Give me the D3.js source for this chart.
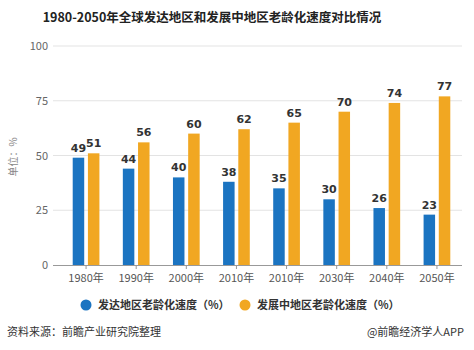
<!DOCTYPE html>
<html><head><meta charset="utf-8">
<script src="https://cdn.jsdelivr.net/npm/d3@7"></script>
<style>body{margin:0;background:#fff;} svg{display:block;font-family:"Noto Sans CJK SC","Microsoft YaHei",sans-serif;}</style>
</head><body><svg id="c" width="474" height="350"></svg>
<script>
const categories = ["1980年","1990年","2000年","2010年","2010年","2030年","2040年","2050年"];
const developed = [49,44,40,38,35,30,26,23];
const developing = [51,56,60,62,65,70,74,77];
const seriesNames = ["发达地区老龄化速度（%）","发展中地区老龄化速度（%）"];
const yTicks = [0,25,50,75,100];
const colors = ["#1b74c1","#f1a722"];

const svg = d3.select("#c");
const x = d3.scaleBand().domain(d3.range(categories.length)).range([61,462]).padding(0);
const y = d3.scaleLinear().domain([0,100]).range([265,46]);

svg.append("text").attr("x",212).attr("y",22).attr("text-anchor","middle")
  .attr("font-size",12.5).attr("font-weight","bold").attr("fill","#222")
  .text("1980-2050年全球发达地区和发展中地区老龄化速度对比情况");

// grid
svg.append("g").selectAll("line").data(yTicks.filter(d=>d>0)).join("line")
  .attr("x1",53).attr("x2",462).attr("y1",d=>y(d)).attr("y2",d=>y(d))
  .attr("stroke","#e3e3e3").attr("stroke-width",1);
svg.append("g").selectAll("text").data(yTicks).join("text")
  .attr("x",48).attr("y",d=>y(d)+4).attr("text-anchor","end")
  .attr("font-size",11).attr("fill","#666").text(d=>d);

svg.append("text").attr("transform","translate(17,157) rotate(-90)")
  .attr("text-anchor","middle").attr("font-size",10).attr("fill","#888").text("单位：%");

// x axis
const xAxis = d3.axisBottom(x).tickSize(4).tickFormat(i=>categories[i]);
const gx = svg.append("g").attr("transform","translate(0,265)").call(xAxis);
gx.select(".domain").attr("d","M53,0.5H462").attr("stroke","#999");
gx.selectAll(".tick line").attr("stroke","#999");
gx.selectAll(".tick text").attr("font-size",11).attr("fill","#555").attr("dy","0.9em")
  .attr("font-family","'Noto Sans CJK SC',sans-serif");

const bw = 11.5, gap = 3.7;
const series = [developed, developing];
series.forEach((vals,si)=>{
  const off = si===0 ? -gap/2-bw : gap/2;
  const g = svg.append("g");
  g.selectAll("rect").data(vals).join("rect")
    .attr("x",(d,i)=>x(i)+x.bandwidth()/2+off).attr("width",bw)
    .attr("y",d=>y(d)).attr("height",d=>y(0)-y(d)).attr("fill",colors[si]);
  g.selectAll("text").data(vals).join("text")
    .attr("x",(d,i)=>x(i)+x.bandwidth()/2+off+bw/2).attr("y",d=>y(d)-6)
    .attr("text-anchor","middle").attr("font-size",11).attr("font-weight","bold")
    .attr("fill","#333").attr("font-family","'DejaVu Sans',sans-serif").text(d=>d);
});

// legend
const lx = [86,245];
seriesNames.forEach((n,i)=>{
  svg.append("circle").attr("cx",lx[i]).attr("cy",305).attr("r",5.5).attr("fill",colors[i]);
  svg.append("text").attr("x",lx[i]+12).attr("y",309).attr("font-size",11).attr("font-weight","bold")
    .attr("fill","#333").text(n);
});

svg.append("text").attr("x",7).attr("y",336).attr("font-size",11).attr("fill","#333").text("资料来源：前瞻产业研究院整理");
svg.append("text").attr("x",464).attr("y",336).attr("text-anchor","end").attr("font-size",11).attr("fill","#333").text("@前瞻经济学人APP");
</script></body></html>
